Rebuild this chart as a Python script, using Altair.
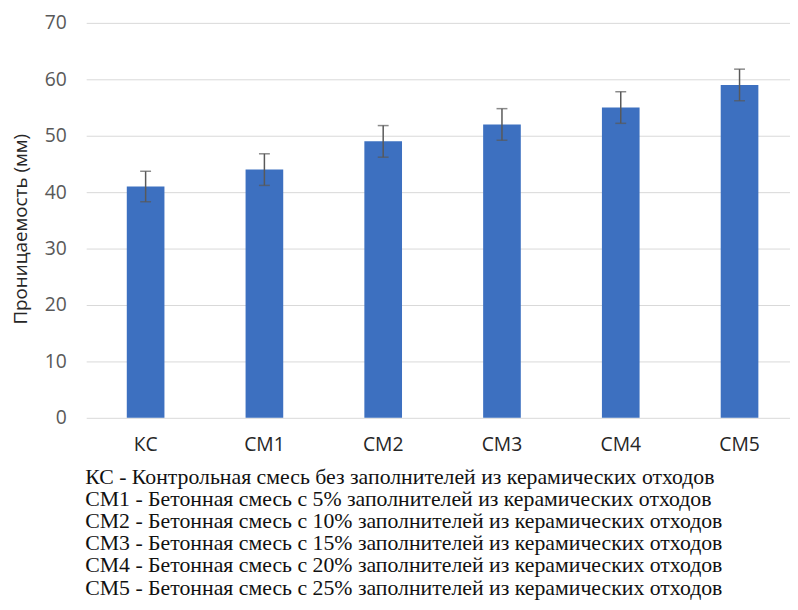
import altair as alt
import pandas as pd

categories = ["КС", "СМ1", "СМ2", "СМ3", "СМ4", "СМ5"]
values = [41, 44, 49, 52, 55, 59]
errors = [2.7, 2.8, 2.8, 2.8, 2.8, 2.8]
caption_lines = [
    "КС - Контрольная смесь без заполнителей из керамических отходов",
    "СМ1 - Бетонная смесь с 5% заполнителей из керамических отходов",
    "СМ2 - Бетонная смесь с 10% заполнителей из керамических отходов",
    "СМ3 - Бетонная смесь с 15% заполнителей из керамических отходов",
    "СМ4 - Бетонная смесь с 20% заполнителей из керамических отходов",
    "СМ5 - Бетонная смесь с 25% заполнителей из керамических отходов",
]

df = pd.DataFrame({"cat": categories, "value": values, "err": errors})
df["lo"] = df["value"] - df["err"]
df["hi"] = df["value"] + df["err"]

xscale = alt.Scale(paddingInner=0.683, paddingOuter=0.304, align=0.562)
x = alt.X("cat:N", sort=categories, scale=xscale,
          axis=alt.Axis(labelAngle=0, title=None, domain=False, grid=False,
                        ticks=False, labelPadding=18, labelFont="Open Sans",
                        labelFontSize=19.5, labelColor="#262626"))

base = alt.Chart(df)

bars = base.mark_bar(color="#3d70c0").encode(
    x=x,
    y=alt.Y("value:Q", scale=alt.Scale(domain=[0, 70], nice=False),
            axis=alt.Axis(values=[0, 10, 20, 30, 40, 50, 60, 70], grid=True,
                          gridColor="#d9d9d9", domain=False, ticks=False,
                          labelPadding=20, labelFont="Open Sans", labelFontSize=19.5,
                          labelColor="#595959", title="Проницаемость (мм)",
                          titleFont="Open Sans", titleFontSize=19,
                          titleFontWeight="normal", titleColor="#262626",
                          titleX=-66, titleY=208, titleAngle=270,
                          titleBaseline="middle", titleAlign="center")),
)

rules = base.mark_rule(color="#595959", strokeWidth=1.5).encode(
    x=alt.X("cat:N", sort=categories), y="lo:Q", y2="hi:Q"
)
caps_hi = base.mark_tick(color="#595959", thickness=1.5, size=11).encode(
    x=alt.X("cat:N", sort=categories), y="hi:Q"
)
caps_lo = base.mark_tick(color="#595959", thickness=1.5, size=11).encode(
    x=alt.X("cat:N", sort=categories), y="lo:Q"
)

chart = alt.layer(bars, rules, caps_hi, caps_lo).properties(
    width=711,
    height=399,
    background="white",
    autosize=alt.AutoSizeParams(type="none"),
    padding={"left": 79, "top": 12, "right": 0, "bottom": 183},
    title=alt.TitleParams(
        text=caption_lines,
        orient="bottom",
        anchor="start",
        frame="group",
        font="Liberation Serif",
        fontSize=22,
        fontWeight="normal",
        color="#111111",
        lineHeight=22.4,
        offset=13,
        dx=-1,
    ),
).configure_view(strokeWidth=0, stroke="transparent")

chart.save("out.html", embed_options={"renderer": "svg", "actions": False})
